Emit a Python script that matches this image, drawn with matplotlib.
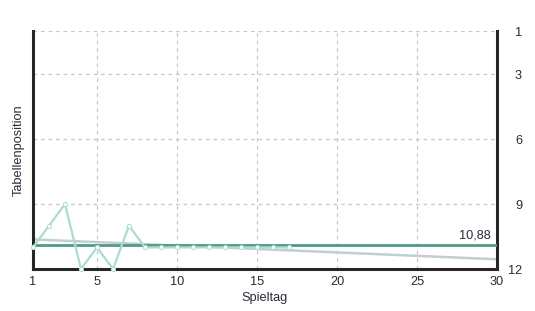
import matplotlib.pyplot as plt

# Tabellenposition je Spieltag
spieltage = list(range(1, 18))
positionen = [11, 10, 9, 12, 11, 12, 10, 11, 11, 11, 11, 11, 11, 11, 11, 11, 11]

trend_x = [1, 30]
trend_y = [10.63, 11.55]

# Durchschnitt
mittel_x = [1, 30]
mittel_y = [10.88, 10.88]
mittel_text = '10,88'

xticks = [1, 5, 10, 15, 20, 25, 30]
yticks = [1, 3, 6, 9, 12]

text_color = '#2a2a3a'
plt.rcParams['font.family'] = ['Liberation Sans', 'DejaVu Sans']

fig = plt.figure(figsize=(5.35, 3.11), dpi=100)
ax = fig.add_axes([0.0617, 0.135, 0.8673, 0.765])

ax.plot(trend_x, trend_y, color='#c3cfcd', linewidth=1.8, zorder=2)
ax.plot(mittel_x, mittel_y, color='#4e9b8c', linewidth=2, zorder=3)
ax.plot(spieltage, positionen, color='#acdcd0', linewidth=1.6,
        marker='o', markersize=3, markerfacecolor='white',
        markeredgecolor='#acdcd0', markeredgewidth=0.7, zorder=4, clip_on=False)

ax.text(29.6, 10.75, mittel_text, ha='right', va='bottom', fontsize=9.2, color=text_color)

ax.set_xlim(1, 30)
ax.set_ylim(12, 1)
ax.set_xticks(xticks)
ax.set_yticks(yticks)
ax.yaxis.tick_right()
ax.tick_params(length=0, labelsize=9.2, labelcolor=text_color)
ax.tick_params(axis='x', pad=5)
ax.tick_params(axis='y', pad=18)
for lbl in ax.get_yticklabels():
    lbl.set_horizontalalignment('right')

ax.grid(True, color='#c8c8c8', linestyle=(0, (3, 3)), linewidth=0.9)
ax.set_axisbelow(True)

for side in ['left', 'right', 'bottom']:
    ax.spines[side].set_color('#262626')
    ax.spines[side].set_linewidth(2.2)
ax.spines['top'].set_visible(False)

ax.set_xlabel('Spieltag', fontsize=9.2, color=text_color, labelpad=3)
ax.set_ylabel('Tabellenposition', fontsize=9.2, color=text_color, labelpad=6)
ax.yaxis.set_label_position('left')

fig.savefig('out.png', dpi=100)
